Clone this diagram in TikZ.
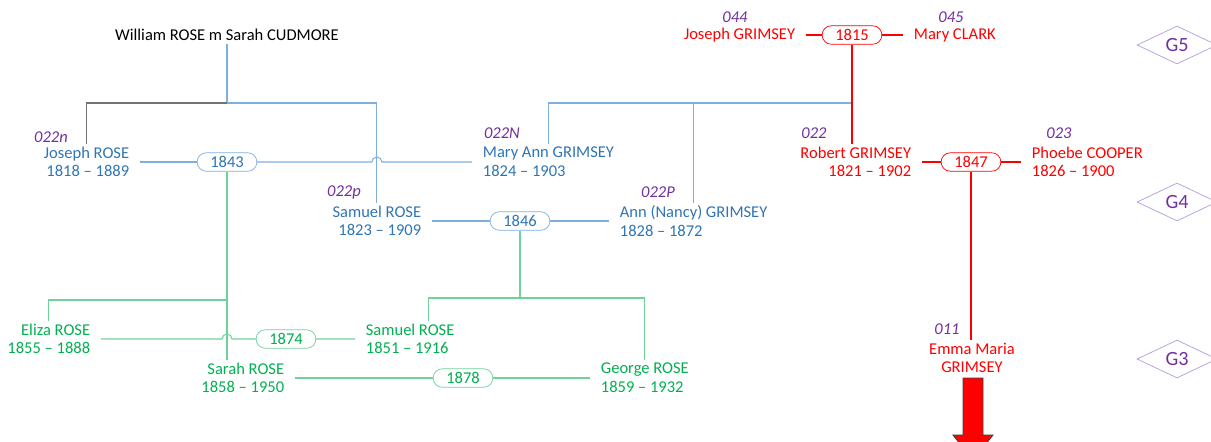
\documentclass[tikz,border=0pt]{standalone}
\usepackage{fontspec}
\setmainfont{Carlito}
\usepackage{tikz}
\usetikzlibrary{calc,shapes.geometric}
\definecolor{roseblue}{HTML}{2E75B6}
\definecolor{bluelink}{HTML}{7DB0DF}
\definecolor{rosegreen}{HTML}{00B050}
\definecolor{greenlink}{HTML}{6ED39B}
\definecolor{grimred}{HTML}{FF0000}
\definecolor{idpurple}{HTML}{7030A0}
\definecolor{genlilac}{HTML}{B39DDB}
\newcommand\namefont{\fontsize{9.4}{10.6}\selectfont}
\tikzset{person/.style={font=\namefont,inner xsep=6pt,inner ysep=1.5pt},
  bp/.style={person,text=roseblue},
  gp/.style={person,text=rosegreen},
  rp/.style={person,text=grimred},
  wed/.style={draw,fill=white,rounded corners=5.2pt,minimum width=34pt,minimum height=10.5pt,inner sep=0pt,font=\namefont},
  ident/.style={font=\namefont\itshape,text=idpurple,inner sep=0pt},
  gen/.style={diamond,draw=genlilac,text=idpurple,font=\fontsize{11.5}{13}\selectfont,minimum width=45.5pt,minimum height=21.6pt,inner sep=0pt},
  bline/.style={bluelink,line width=.6pt},
  gline/.style={greenlink,line width=.6pt},
  rline/.style={grimred,line width=1.3pt},
  kline/.style={black!55,line width=.6pt},
  bigarrow/.style={fill=grimred,draw=black!75,line width=.5pt}}

\begin{document}
\begin{tikzpicture}[x=.02cm,y=-.02cm]
\useasboundingbox (0,0) rectangle (1211,441);
\node[person] (wr) at (227,35) {William ROSE m Sarah CUDMORE};
\node[bp,align=right,anchor=east] (josephR) at (140,162) {Joseph ROSE\\1818 -- 1889};
\node[wed,draw=bluelink,text=roseblue] (m1843) at (227,162) {1843};
\node[bp,align=left,anchor=west] (maryann) at (472,162) {Mary Ann GRIMSEY\\1824 -- 1903};
\node[bp,align=right,anchor=east] (samuelA) at (432,221) {Samuel ROSE\\1823 -- 1909};
\node[wed,draw=bluelink,text=roseblue] (m1846) at (520,221) {1846};
\node[bp,align=left,anchor=west] (annN) at (609,221) {Ann (Nancy) GRIMSEY\\1828 -- 1872};
\node[rp,anchor=east] (josephG) at (806,35) {Joseph GRIMSEY};
\node[wed,draw=grimred,text=grimred] (m1815) at (852,35) {1815};
\node[rp,anchor=west] (maryC) at (903,35) {Mary CLARK};
\node[rp,align=right,anchor=east] (robert) at (922,162) {Robert GRIMSEY\\1821 -- 1902};
\node[wed,draw=grimred,text=grimred] (m1847) at (971,162) {1847};
\node[rp,align=left,anchor=west] (phoebe) at (1021,162) {Phoebe COOPER\\1826 -- 1900};
\node[rp,align=center] (emma) at (972,358) {Emma Maria\\GRIMSEY};
\node[gp,align=right,anchor=east] (eliza) at (101,339) {Eliza ROSE\\1855 -- 1888};
\node[wed,draw=greenlink,text=rosegreen] (m1874) at (286,339) {1874};
\node[gp,align=left,anchor=west] (samuelB) at (355,339) {Samuel ROSE\\1851 -- 1916};
\node[gp,align=right,anchor=east] (sarah) at (295,378) {Sarah ROSE\\1858 -- 1950};
\node[wed,draw=greenlink,text=rosegreen] (m1878) at (463,378) {1878};
\node[gp,align=left,anchor=west] (george) at (590,378) {George ROSE\\1859 -- 1932};
\foreach \n/\x/\y in {044/735/17,045/951/17,022n/51/137,022N/502/133,022p/344/192,022P/658/192,022/814/133,023/1059/133,011/947/329}
  \node[ident] (id\n) at (\x,\y) {\n};
\foreach \g/\y in {5/45,4/202,3/359}
  \node[gen] (g\g) at (1177,\y) {G\g};

\coordinate (kRose) at (227,103);
\coordinate (kGrim) at (852,103);
\coordinate (kSarah) at (227,300);
\coordinate (kPair) at (520,298);
\coordinate (hop1) at (samuelA.north |- m1843.east);
\coordinate (hop2) at (m1843.south |- m1874.west);
\draw[bline] (wr) -- (kRose) -| (samuelA.north);
\draw[kline] (kRose) -| (josephR.north);
\draw[bline] (kGrim) -| (maryann.north);
\draw[bline] (annN.north |- kGrim) -- (annN.north);
\draw[bline] (josephR.east) -- (m1843.west);
\draw[bline] (m1843.east) -- ($(hop1)+(-5,0)$) arc[start angle=180,end angle=360,radius=5] -- (maryann.west);
\draw[bline] (samuelA.east) -- (m1846.west) (m1846.east) -- (annN.west);
\draw[gline] (m1843.south) -- (m1843.south |- sarah.north);
\draw[gline] (kSarah) -| (eliza.north);
\draw[gline] (eliza.east) -- ($(hop2)+(-5,0)$) arc[start angle=180,end angle=360,radius=5] -- (m1874.west) (m1874.east) -- (samuelB.west);
\draw[gline] (m1846.south) -- (kPair);
\draw[gline] (kPair) -| ($(samuelB.north)+(18,0)$);
\draw[gline] (kPair) -| (george.north);
\draw[gline] (sarah.east) -- (m1878.west) (m1878.east) -- (george.west);
\draw[rline] (josephG.east) -- (m1815.west) (m1815.east) -- (maryC.west);
\draw[rline] (m1815.south) -- (m1815.south |- robert.north);
\draw[rline] (robert.east) -- (m1847.west) (m1847.east) -- (phoebe.west);
\draw[rline] (m1847.south) -- (m1847.south |- emma.north);
\draw[bigarrow] (963,378) -- ++(20,0) -- ++(0,57) -- ++(10,0) -- ++(-20,25) -- ++(-20,-25) -- ++(10,0) -- cycle;
\end{tikzpicture}
\end{document}
